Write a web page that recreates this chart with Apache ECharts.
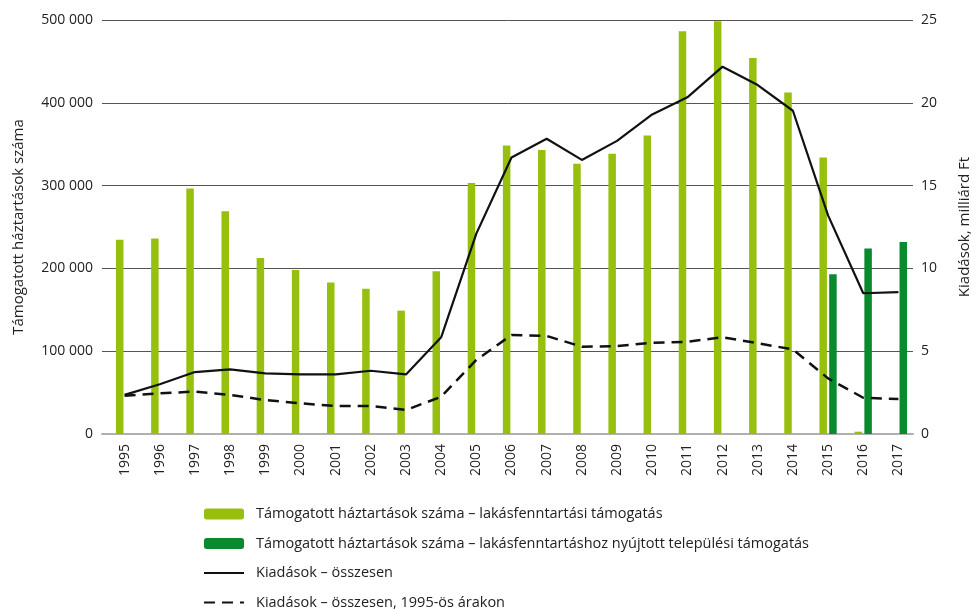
<!DOCTYPE html>
<html>
<head>
<meta charset="utf-8">
<script src="https://cdn.jsdelivr.net/npm/echarts@6/dist/echarts.min.js"></script>
<style>html,body{margin:0;padding:0;background:#fff}#c{width:980px;height:609px}</style>
</head>
<body>
<div id="c"></div>
<script>
const years = ['1995','1996','1997','1998','1999','2000','2001','2002','2003','2004','2005','2006','2007','2008','2009','2010','2011','2012','2013','2014','2015','2016','2017'];
const lightBars = [234500,236000,296500,269000,212500,198000,183000,175500,149000,196500,303000,348500,343000,326500,338500,360500,486500,498500,454000,412500,334000,2800,null];
const darkBars = [null,null,null,null,null,null,null,null,null,null,null,null,null,null,null,null,null,null,null,null,193000,224000,232000];
const totalSpend = [2.36,3.0,3.74,3.9,3.66,3.6,3.6,3.82,3.6,5.84,12.1,16.7,17.83,16.55,17.7,19.3,20.33,22.18,21.07,19.52,13.2,8.5,8.57];
const realSpend = [2.31,2.46,2.56,2.36,2.05,1.85,1.69,1.69,1.45,2.25,4.47,5.98,5.92,5.27,5.31,5.51,5.57,5.84,5.48,5.11,3.36,2.19,2.11];
const seriesNames = ['Támogatott háztartások száma – lakásfenntartási támogatás','Támogatott háztartások száma – lakásfenntartáshoz nyújtott települési támogatás','Kiadások – összesen','Kiadások – összesen, 1995-ös árakon'];
const leftAxisName = 'Támogatott háztartások száma';
const rightAxisName = 'Kiadások, milliárd Ft';

const FONT = 'Open Sans';
const fmt = v => String(v).replace(/\B(?=(\d{3})+(?!\d))/g, ' ');
const chart = echarts.init(document.getElementById('c'));
chart.setOption({
  animation: false,
  textStyle: {fontFamily: FONT},
  grid: [
    {left: 102, right: 58, top: 20, bottom: 175},
    {left: 107, right: 64, top: 20, bottom: 175}
  ],
  legend: {
    orient: 'vertical', left: 198, top: 501, height: 130, width: 720,
    itemWidth: 40, itemHeight: 11, itemGap: 13.5,
    textStyle: {fontFamily: FONT, fontSize: 14.5, color: '#222', lineHeight: 16, padding: [0, 0, 0, 7]},
    data: [
      {name: seriesNames[0]},
      {name: seriesNames[1]},
      {name: seriesNames[2], itemStyle: {opacity: 0}},
      {name: seriesNames[3], itemStyle: {opacity: 0}}
    ]
  },
  xAxis: [
    {type: 'category', gridIndex: 0, data: years,
     axisLine: {show: true, lineStyle: {color: '#b0b0b0', width: 2}},
     axisTick: {show: false}, axisLabel: {show: false}, splitLine: {show: false}},
    {type: 'category', gridIndex: 1, data: years,
     axisLine: {show: false}, axisTick: {show: false},
     axisLabel: {rotate: 90, fontSize: 14, color: '#222', margin: 10, fontFamily: FONT}}
  ],
  yAxis: [
    {type: 'value', gridIndex: 0, min: 0, max: 500000, interval: 100000, position: 'left',
     name: leftAxisName, nameLocation: 'middle', nameGap: 76, nameRotate: 90,
     nameTextStyle: {fontSize: 15, color: '#222', fontFamily: FONT},
     axisLine: {show: false}, axisTick: {show: false},
     axisLabel: {formatter: fmt, fontSize: 14, color: '#222', margin: 9, fontFamily: FONT},
     splitLine: {show: true, lineStyle: {color: '#555', width: 1}}},
    {type: 'value', gridIndex: 0, min: 0, max: 25, interval: 5, position: 'right',
     name: rightAxisName, nameLocation: 'middle', nameGap: 44, nameRotate: 90,
     nameTextStyle: {fontSize: 15, color: '#222', fontFamily: FONT},
     axisLine: {show: false}, axisTick: {show: false},
     axisLabel: {fontSize: 14, color: '#222', margin: 8, fontFamily: FONT},
     splitLine: {show: false}},
    {type: 'value', gridIndex: 1, min: 0, max: 500000, show: false, splitLine: {show: false}},
    {type: 'value', gridIndex: 1, min: 0, max: 25, show: false, splitLine: {show: false}}
  ],
  series: [
    {name: seriesNames[0], type: 'bar', xAxisIndex: 1, yAxisIndex: 2, data: lightBars,
     barWidth: 7.5, barGap: '30%', itemStyle: {color: '#97bf0d'}},
    {name: seriesNames[1], type: 'bar', xAxisIndex: 1, yAxisIndex: 2, data: darkBars,
     barWidth: 7.5, barGap: '30%', itemStyle: {color: '#0a8a2f'}},
    {name: seriesNames[2], type: 'line', xAxisIndex: 1, yAxisIndex: 3, data: totalSpend,
     symbol: 'none', lineStyle: {color: '#111', width: 2.2}, itemStyle: {color: '#111'}},
    {name: seriesNames[3], type: 'line', xAxisIndex: 1, yAxisIndex: 3, data: realSpend,
     symbol: 'none', lineStyle: {color: '#111', width: 2.5, type: [11, 7]}, itemStyle: {color: '#111'}}
  ]
});
</script>
</body>
</html>
